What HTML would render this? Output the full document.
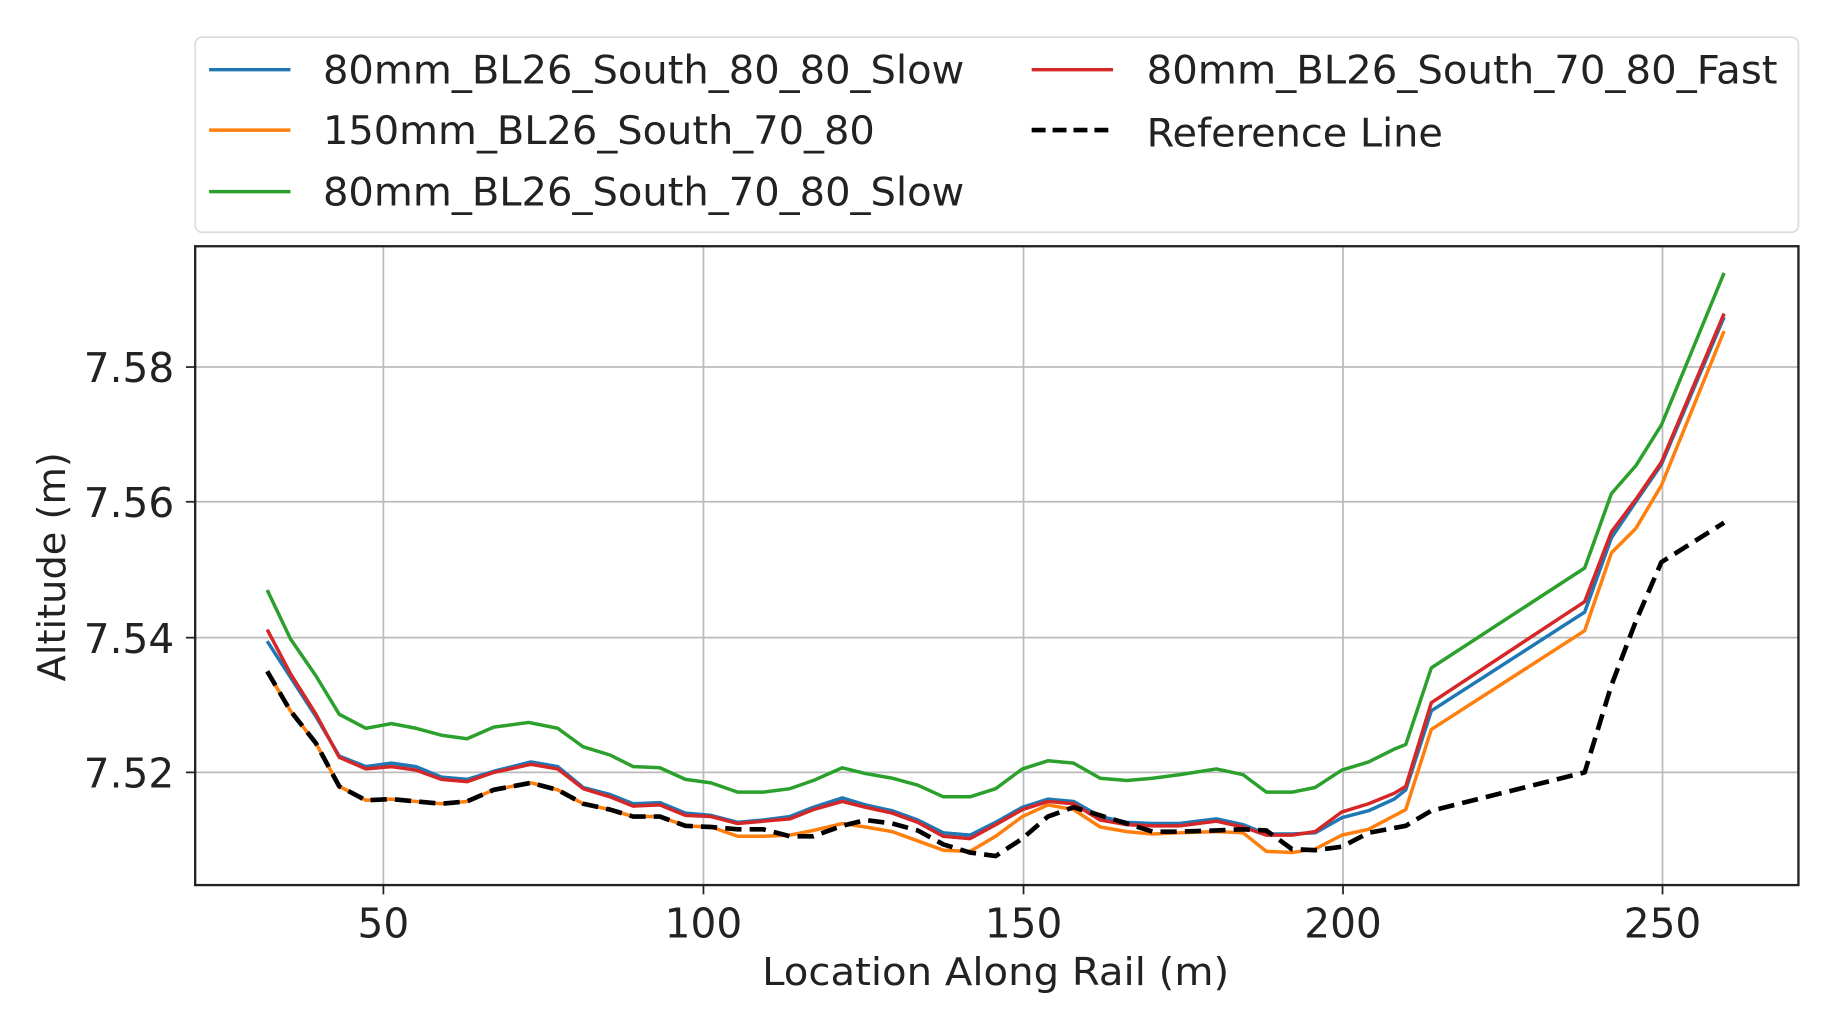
<!DOCTYPE html>
<html><head><meta charset="utf-8"><style>html,body{margin:0;padding:0;background:#fff}svg{display:block}</style></head>
<body>
<svg width="1824" height="1014" viewBox="0 0 1570 873" preserveAspectRatio="none" xmlns="http://www.w3.org/2000/svg" font-family="DejaVu Sans, Liberation Sans, sans-serif" fill="#222">
<rect x="168" y="32" width="1380" height="168" rx="6" fill="#fff" stroke="#ddd" stroke-width="1.5"/>
<g stroke-width="3" fill="none">
<line x1="180" y1="60" x2="250" y2="60" stroke="#1f77b4"/>
<line x1="180" y1="112" x2="250" y2="112" stroke="#ff7f0e"/>
<line x1="180" y1="165" x2="250" y2="165" stroke="#2ca02c"/>
<line x1="888" y1="60" x2="958" y2="60" stroke="#d62728"/>
<line x1="888" y1="112" x2="958" y2="112" stroke="#000" stroke-dasharray="12,6" stroke-width="4"/>
</g>
<g font-size="34" fill="#222">
<text x="278" y="72" textLength="552" lengthAdjust="spacingAndGlyphs">80mm_BL26_South_80_80_Slow</text>
<text x="278" y="124" textLength="475" lengthAdjust="spacingAndGlyphs">150mm_BL26_South_70_80</text>
<text x="278" y="177" textLength="552" lengthAdjust="spacingAndGlyphs">80mm_BL26_South_70_80_Slow</text>
<text x="987" y="72" textLength="543" lengthAdjust="spacingAndGlyphs">80mm_BL26_South_70_80_Fast</text>
<text x="987" y="126" textLength="255" lengthAdjust="spacingAndGlyphs">Reference Line</text>
</g>
<g stroke="#bbb" stroke-width="1.5">
<line x1="330" y1="212" x2="330" y2="762"/><line x1="605.5" y1="212" x2="605.5" y2="762"/><line x1="881" y1="212" x2="881" y2="762"/><line x1="1156" y1="212" x2="1156" y2="762"/><line x1="1431" y1="212" x2="1431" y2="762"/>
<line x1="168" y1="316" x2="1548" y2="316"/><line x1="168" y1="432" x2="1548" y2="432"/><line x1="168" y1="549" x2="1548" y2="549"/><line x1="168" y1="665" x2="1548" y2="665"/>
</g>
<g stroke="#222" stroke-width="1.5">
<line x1="330" y1="762" x2="330" y2="770"/><line x1="605.5" y1="762" x2="605.5" y2="770"/><line x1="881" y1="762" x2="881" y2="770"/><line x1="1156" y1="762" x2="1156" y2="770"/><line x1="1431" y1="762" x2="1431" y2="770"/>
<line x1="160" y1="316" x2="168" y2="316"/><line x1="160" y1="432" x2="168" y2="432"/><line x1="160" y1="549" x2="168" y2="549"/><line x1="160" y1="665" x2="168" y2="665"/>
</g>
<g fill="none" stroke-width="3" stroke-linejoin="round">
<polyline stroke="#2ca02c" points="230,508 250,550 272,582 292,615 315,627 337,623 358,627 380,633 402,636 425,626 455,622 480,627 502,643 525,650 545,660 568,661 590,671 612,674 635,682 657,682 680,679 700,672 725,661 745,666 768,670 790,676 812,686 835,686 857,679 880,662 902,655 924,657 947,670 970,672 992,670 1015,667 1047,662 1070,667 1090,682 1112,682 1132,678 1155,663 1178,656 1200,645 1210,641 1232,575 1364,489 1387,425 1408,401 1430,366 1484,235"/>
<polyline stroke="#ff7f0e" points="230,578 250,612 272,640 292,677 315,689 337,688 358,690 380,692 402,690 425,680 457,674 480,680 502,692 525,697 545,703 568,703 590,711 612,712 635,720 657,720 680,719 700,715 725,709 745,712 768,716 790,724 812,732 835,733 857,720 880,703 902,693 924,697 947,712 970,716 992,718 1015,717 1047,716 1070,717 1090,733 1112,734 1132,731 1155,719 1178,714 1210,697 1232,628 1364,543 1387,476 1408,455 1430,418 1484,285"/>
<polyline stroke="#1f77b4" points="230,552 250,583 272,617 292,651 315,660 337,657 358,660 380,669 402,671 425,664 457,656 480,660 502,678 525,684 545,692 568,691 590,700 612,702 635,708 657,706 680,703 700,695 725,687 745,693 768,698 790,706 812,717 835,719 857,708 880,695 902,688 924,690 947,703 970,708 992,709 1015,709 1047,705 1070,710 1090,718 1112,718 1132,717 1155,704 1178,698 1200,688 1210,680 1232,612 1364,527 1387,463 1408,432 1430,400 1484,273"/>
<polyline stroke="#d62728" points="230,542 250,580 272,615 292,652 315,662 337,660 358,663 380,671 402,673 425,665 457,658 480,662 502,679 525,686 545,694 568,693 590,702 612,703 635,709 657,707 680,705 700,697 725,690 745,695 768,700 790,708 812,720 835,722 857,710 880,697 902,690 924,692 947,706 970,710 992,711 1015,711 1047,707 1070,712 1090,719 1112,719 1132,716 1155,699 1178,692 1200,683 1210,677 1232,605 1364,518 1387,458 1408,430 1430,398 1484,270"/>
<polyline stroke="#000" stroke-width="4" stroke-dasharray="14,7" points="230,578 250,612 272,640 292,677 315,689 337,688 358,690 380,692 402,690 425,680 457,674 480,680 502,692 525,697 545,703 568,703 590,711 612,712 635,714 657,714 680,720 700,720 725,711 745,706 768,709 790,715 812,727 835,734 857,737 880,722 902,703 924,695 947,702 970,709 992,716 1015,716 1047,715 1070,714 1090,715 1112,731 1132,732 1155,729 1178,717 1210,711 1232,698 1364,665 1387,590 1408,535 1430,484 1484,450"/>
</g>
<rect x="168" y="212" width="1380" height="550" fill="none" stroke="#222" stroke-width="2"/>
<g font-size="35" text-anchor="middle">
<text x="330" y="807">50</text><text x="605.5" y="807">100</text><text x="881" y="807">150</text><text x="1156" y="807">200</text><text x="1431" y="807">250</text>
</g>
<g font-size="35" text-anchor="end">
<text x="150" y="329">7.58</text><text x="150" y="445">7.56</text><text x="150" y="562">7.54</text><text x="150" y="678">7.52</text>
</g>
<text x="857" y="848" font-size="33" text-anchor="middle" textLength="402" lengthAdjust="spacingAndGlyphs">Location Along Rail (m)</text>
<text transform="translate(56,488) rotate(-90)" font-size="33" text-anchor="middle">Altitude (m)</text>
</svg>
</body></html>
